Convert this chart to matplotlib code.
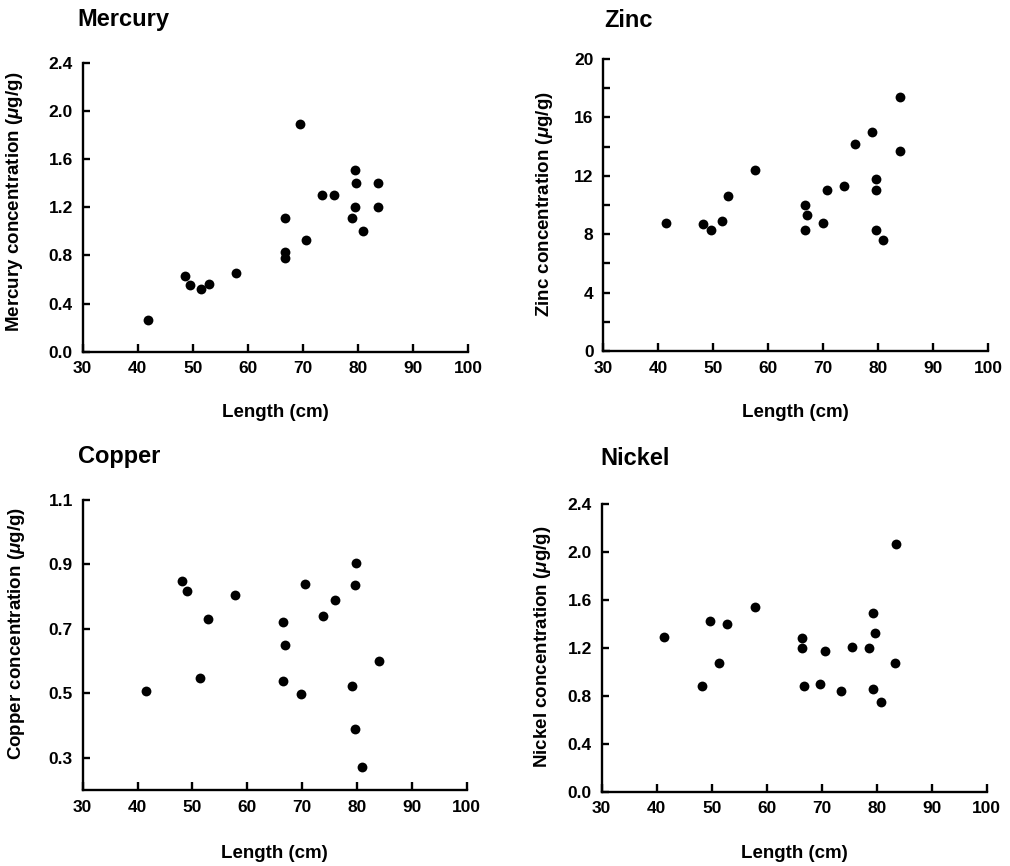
import matplotlib
matplotlib.use("Agg")
import matplotlib.pyplot as plt
from matplotlib.ticker import MultipleLocator, FormatStrFormatter

plt.rcParams['font.family'] = ['Liberation Sans', 'DejaVu Sans']
plt.rcParams['font.weight'] = 'bold'
plt.rcParams['mathtext.fontset'] = 'custom'
plt.rcParams['mathtext.it'] = 'Liberation Sans:italic:bold'
plt.rcParams['mathtext.rm'] = 'Liberation Sans:bold'

# lengths (cm) and concentrations (ug/g)
hg_len = [41.9, 48.6, 49.5, 51.4, 52.9, 57.9, 66.7, 66.7, 66.7, 69.4,
          70.6, 73.4, 75.7, 78.9, 79.4, 79.6, 79.4, 80.9, 83.6, 83.6]
hg_val = [0.26, 0.63, 0.55, 0.52, 0.56, 0.65, 1.11, 0.83, 0.78, 1.89,
          0.93, 1.30, 1.30, 1.11, 1.51, 1.40, 1.20, 1.00, 1.40, 1.20]

zn_len = [41.4, 48.1, 49.6, 51.5, 52.6, 57.5, 66.7, 67.0, 66.7, 70.0,
          70.6, 73.7, 75.7, 78.8, 84.0, 84.0, 79.6, 79.5, 79.6, 80.9]
zn_val = [8.8, 8.7, 8.3, 8.9, 10.6, 12.4, 10.0, 9.3, 8.3, 8.8,
          11.0, 11.3, 14.2, 15.0, 17.4, 13.7, 11.8, 11.0, 8.3, 7.6]

cu_len = [41.5, 48.1, 49.1, 52.8, 51.4, 57.7, 66.6, 66.8, 66.6, 69.8,
          70.5, 73.8, 75.9, 79.8, 79.7, 79.0, 79.6, 81.0, 84.0]
cu_val = [0.508, 0.847, 0.817, 0.731, 0.549, 0.805, 0.72, 0.651, 0.538, 0.499,
          0.840, 0.740, 0.788, 0.905, 0.836, 0.522, 0.389, 0.272, 0.60]

ni_len = [41.4, 48.2, 49.7, 51.3, 52.7, 57.8, 66.5, 66.5, 66.8, 69.7,
          70.6, 73.6, 75.6, 78.6, 79.4, 79.7, 79.4, 80.7, 83.6, 83.4]
ni_val = [1.29, 0.88, 1.42, 1.07, 1.40, 1.54, 1.28, 1.20, 0.88, 0.90,
          1.17, 0.84, 1.21, 1.20, 1.49, 1.32, 0.86, 0.75, 2.07, 1.07]

x_ticks = list(range(30, 101, 10))

panels = [
    # title, x, y, ylim, yticks, minor step, tick format
    ("Mercury", hg_len, hg_val, (0, 2.4), [0, 0.4, 0.8, 1.2, 1.6, 2.0, 2.4], None, "%.1f"),
    ("Zinc", zn_len, zn_val, (0, 20), [0, 4, 8, 12, 16, 20], 2, "%d"),
    ("Copper", cu_len, cu_val, (0.2, 1.1), [0.3, 0.5, 0.7, 0.9, 1.1], None, "%.1f"),
    ("Nickel", ni_len, ni_val, (0, 2.4), [0, 0.4, 0.8, 1.2, 1.6, 2.0, 2.4], None, "%.1f"),
]

# layout (figure fractions): axes rect, title anchor, ylabel pos, xlabel y
rects = [[0.0819, 0.5939, 0.3818, 0.3337], [0.5973, 0.5947, 0.3812, 0.3372],
         [0.0819, 0.0878, 0.3802, 0.3349], [0.5957, 0.0858, 0.3812, 0.3322]]
title_pos = [(0.0762, 0.970), (0.598, 0.969), (0.0772, 0.465), (0.594, 0.4636)]
ylab_pos = [(-0.15, 0.517), (-0.125, 0.503), (-0.145, 0.538), (-0.126, 0.505)]
xlab_y = [-0.18, -0.18, -0.19, -0.185]

fig = plt.figure(figsize=(10.1, 8.66), dpi=100)

for i, (title, xs, ys, ylim, yticks, minor, fmt) in enumerate(panels):
    ax = fig.add_axes(rects[i])
    ax.scatter(xs, ys, s=50, color='black', zorder=3, clip_on=False, linewidths=0)
    ax.set_xlim(30, 100)
    ax.set_ylim(*ylim)
    ax.set_xticks(x_ticks)
    ax.set_yticks(yticks)
    if minor:
        ax.yaxis.set_minor_locator(MultipleLocator(minor))
    ax.yaxis.set_major_formatter(FormatStrFormatter(fmt))
    for s in ['top', 'right']:
        ax.spines[s].set_visible(False)
    for s in ['left', 'bottom']:
        ax.spines[s].set_linewidth(1.7)
    ax.tick_params(axis='x', direction='in', length=6, width=1.7, pad=7, labelsize=12.5)
    ax.tick_params(axis='y', direction='in', length=5, width=1.7, pad=7, labelsize=12.5)
    ax.tick_params(axis='y', which='minor', direction='in', length=5, width=1.7)
    for lab in ax.get_xticklabels() + ax.get_yticklabels():
        lab.set_fontweight('bold')
    ax.set_xlabel("Length (cm)", fontsize=13.5, fontweight='bold')
    ax.xaxis.set_label_coords(0.5, xlab_y[i])
    ax.set_ylabel(title + r" concentration ($\mu$g/g)", fontsize=13.5, fontweight='bold')
    ax.yaxis.set_label_coords(*ylab_pos[i])
    fig.text(title_pos[i][0], title_pos[i][1], title, fontsize=17,
             fontweight='bold', ha='left', va='baseline')

fig.savefig("out.png", dpi=100)
